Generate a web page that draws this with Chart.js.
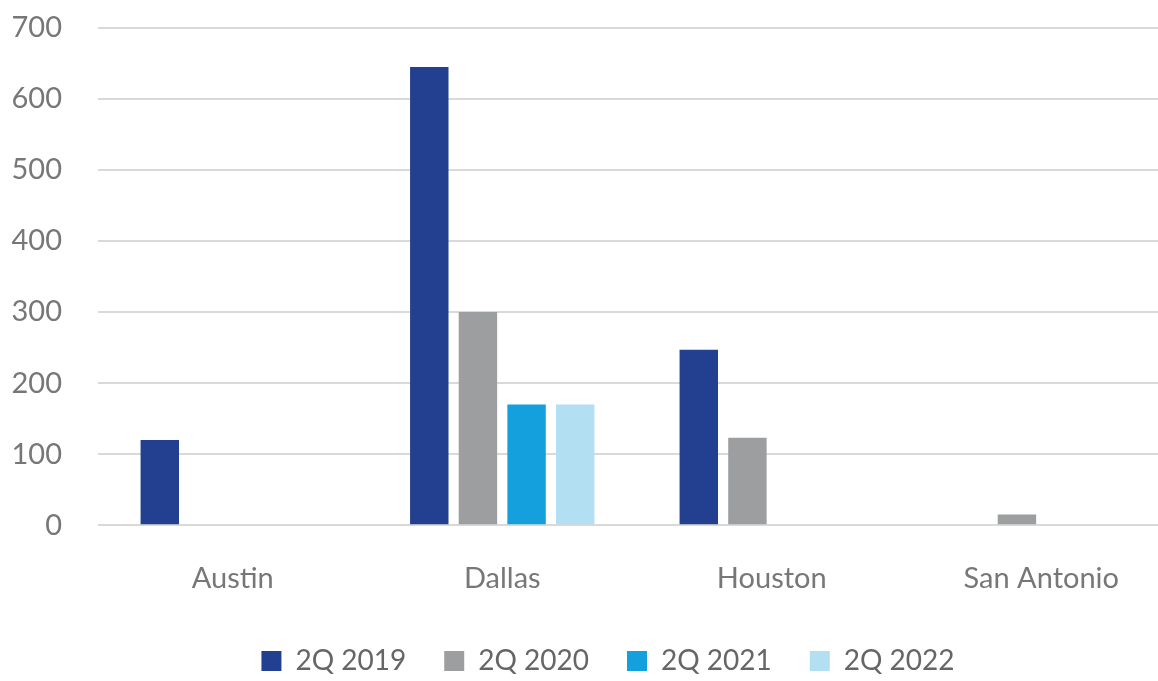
<!DOCTYPE html>
<html>
<head>
<meta charset="utf-8">
<script src="https://cdn.jsdelivr.net/npm/chart.js@4.4.1/dist/chart.umd.min.js"></script>
<style>
  html, body { margin: 0; padding: 0; background: #fff; overflow: hidden; }
  #wrap { width: 1176px; height: 681px; }
</style>
</head>
<body>
<div id="wrap"><canvas id="myChart"></canvas></div>
<script>
const cities = ['Austin', 'Dallas', 'Houston', 'San Antonio'];
const seriesNames = ['2Q 2019', '2Q 2020', '2Q 2021', '2Q 2022'];
const q2019 = [120, 645, 247, null];
const q2020 = [null, 300, 123, 15];
const q2021 = [null, 170, null, null];
const q2022 = [null, 170, null, null];
const yTicks = [0, 100, 200, 300, 400, 500, 600, 700];

const colors = ['#22408f', '#9d9e9f', '#14a0dc', '#b3dff2'];
const values = [q2019, q2020, q2021, q2022];

const fontFamily = 'Lato, "Open Sans", sans-serif';

const datasets = seriesNames.map((name, i) => ({
    label: name,
    data: values[i],
    backgroundColor: colors[i],
    borderWidth: 0,
    categoryPercentage: 0.722,
    barPercentage: 0.79
}));

// the legend row sits a little right of the page centre
const legendShift = {
    id: 'legendShift',
    afterLayout(chart) {
        chart.legend.left += 20;
        chart.legend.right += 20;
    }
};

const config = {
    type: 'bar',
    data: { labels: cities, datasets: datasets },
    options: {
        responsive: true,
        maintainAspectRatio: false,
        animation: false,
        layout: { padding: { top: 28, left: 0, right: 0, bottom: -4 } },
        plugins: {
            legend: {
                position: 'bottom',
                labels: {
                    color: '#666',
                    font: { family: fontFamily, size: 28 },
                    boxWidth: 20,
                    boxHeight: 20,
                    padding: 38
                }
            },
            tooltip: { enabled: false }
        },
        scales: {
            x: {
                grid: { display: false },
                border: { display: false },
                afterFit: (scale) => { scale.height -= 15; },
                ticks: {
                    color: '#777',
                    font: { family: fontFamily, size: 29 },
                    padding: 28
                }
            },
            y: {
                min: 0,
                max: 700,
                afterBuildTicks: (scale) => {
                    scale.ticks = yTicks.map(v => ({ value: v }));
                },
                afterFit: (scale) => {
                    scale.width = 98;
                    scale.paddingTop = 0;
                    scale.paddingBottom = 0;
                },
                grid: { color: '#d9d9d9', lineWidth: 2, drawTicks: false },
                border: { display: false },
                ticks: {
                    color: '#777',
                    font: { family: fontFamily, size: 29 },
                    padding: 36
                }
            }
        }
    },
    plugins: [legendShift]
};

new Chart(document.getElementById('myChart'), config);
</script>
</body>
</html>
